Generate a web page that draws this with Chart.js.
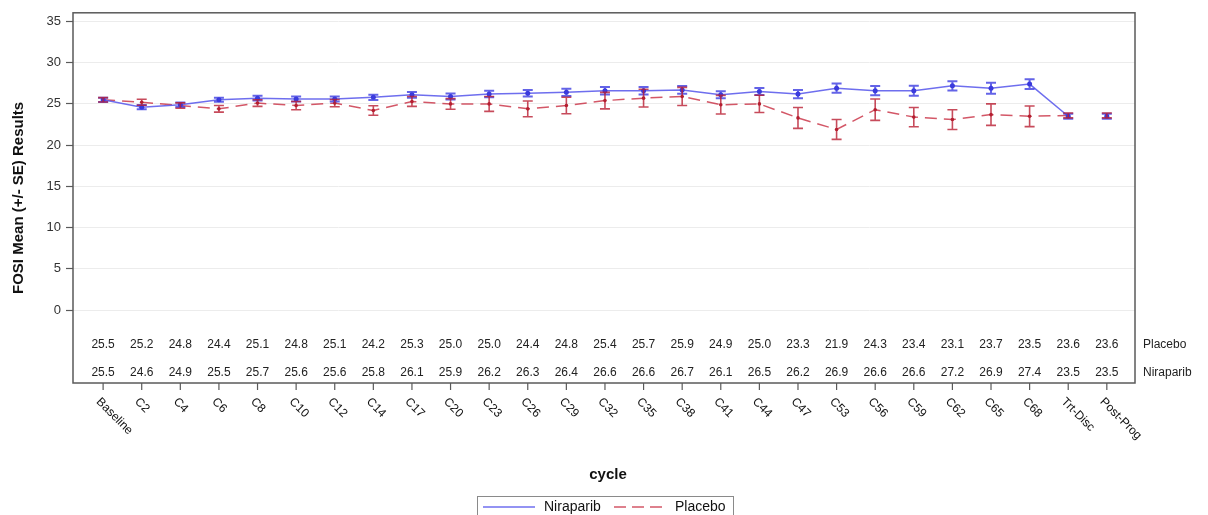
<!DOCTYPE html>
<html>
<head>
<meta charset="utf-8">
<title>FOSI Mean by cycle</title>
<script src="https://cdn.jsdelivr.net/npm/chart.js@4/dist/chart.umd.min.js"></script>
<style>
  html, body { margin: 0; padding: 0; background: #ffffff; }
  #wrap { width: 1208px; height: 515px; }
</style>
</head>
<body>
<div id="wrap"><canvas id="c" width="1208" height="515"></canvas></div>
<script>
// Visits on the x axis
const cycles = ['Baseline', 'C2', 'C4', 'C6', 'C8', 'C10', 'C12', 'C14', 'C17', 'C20', 'C23', 'C26', 'C29',
  'C32', 'C35', 'C38', 'C41', 'C44', 'C47', 'C53', 'C56', 'C59', 'C62', 'C65', 'C68', 'Trt-Disc', 'Post-Prog'];

// FOSI mean per visit
const niraparibMean = [25.5, 24.6, 24.9, 25.5, 25.7, 25.6, 25.6, 25.8, 26.1, 25.9, 26.2, 26.3, 26.4,
  26.6, 26.6, 26.7, 26.1, 26.5, 26.2, 26.9, 26.6, 26.6, 27.2, 26.9, 27.4, 23.5, 23.5];
const placeboMean = [25.5, 25.2, 24.8, 24.4, 25.1, 24.8, 25.1, 24.2, 25.3, 25.0, 25.0, 24.4, 24.8,
  25.4, 25.7, 25.9, 24.9, 25.0, 23.3, 21.9, 24.3, 23.4, 23.1, 23.7, 23.5, 23.6, 23.6];

// Standard error per visit (half-length of each error bar)
const niraparibSE = [0.26, 0.26, 0.26, 0.25, 0.3, 0.3, 0.3, 0.32, 0.34, 0.36, 0.4, 0.4, 0.45,
  0.45, 0.45, 0.48, 0.42, 0.42, 0.5, 0.56, 0.56, 0.6, 0.56, 0.66, 0.6, 0.3, 0.3];
const placeboSE = [0.26, 0.36, 0.32, 0.4, 0.4, 0.5, 0.44, 0.58, 0.6, 0.64, 0.9, 0.95, 1.0,
  1.0, 1.07, 1.1, 1.13, 1.05, 1.27, 1.2, 1.3, 1.17, 1.2, 1.3, 1.25, 0.3, 0.3];

// Y axis tick labels
const yTickValues = [0, 5, 10, 15, 20, 25, 30, 35];

// The last visit is plotted on its own, not joined to the previous one
const standaloneVisit = 'Post-Prog';
const breakIndex = cycles.indexOf(standaloneVisit);

const FONT = '"Liberation Sans", Arial, sans-serif';

const BLUE_LINE = 'rgba(85, 85, 235, 0.85)';
const RED_LINE = 'rgba(200, 45, 65, 0.8)';

function toPoints(values) {
  return values.map((v, i) => ({ x: i, y: v }));
}

const decorations = {
  id: 'decorations',
  afterDatasetsDraw(chart) {
    const { ctx, scales: { x, y } } = chart;
    ctx.save();
    chart.data.datasets.forEach((ds) => {
      ctx.strokeStyle = ds.errColor;
      ctx.lineWidth = ds.errWidth;
      ctx.setLineDash([]);
      ds.data.forEach((p, i) => {
        const px = x.getPixelForValue(p.x);
        const lo = y.getPixelForValue(p.y - ds.se[i]);
        const hi = y.getPixelForValue(p.y + ds.se[i]);
        ctx.beginPath();
        ctx.moveTo(px, lo); ctx.lineTo(px, hi);
        ctx.moveTo(px - 5, lo); ctx.lineTo(px + 5, lo);
        ctx.moveTo(px - 5, hi); ctx.lineTo(px + 5, hi);
        ctx.stroke();
      });
    });
    ctx.restore();
  },
  afterDraw(chart) {
    const { ctx, chartArea: a, scales: { x } } = chart;
    ctx.save();

    // plot frame
    ctx.strokeStyle = '#5a5a5a';
    ctx.lineWidth = 1.5;
    ctx.setLineDash([]);
    ctx.strokeRect(a.left, a.top, a.right - a.left, a.bottom - a.top);

    // value table inside the frame
    ctx.fillStyle = '#222';
    ctx.font = '12px ' + FONT;
    ctx.textBaseline = 'middle';
    const rows = [
      { label: 'Placebo', values: placeboMean, y: a.bottom - 38 },
      { label: 'Niraparib', values: niraparibMean, y: a.bottom - 10 }
    ];
    rows.forEach(r => {
      ctx.textAlign = 'center';
      r.values.forEach((v, i) => {
        ctx.fillText(v.toFixed(1), x.getPixelForValue(i), r.y);
      });
      ctx.textAlign = 'left';
      ctx.fillText(r.label, a.right + 8, r.y);
    });

    // x tick marks and slanted labels
    ctx.strokeStyle = '#5a5a5a';
    ctx.lineWidth = 1.2;
    ctx.fillStyle = '#111';
    cycles.forEach((c, i) => {
      const px = x.getPixelForValue(i);
      ctx.beginPath();
      ctx.moveTo(px, a.bottom);
      ctx.lineTo(px, a.bottom + 7);
      ctx.stroke();
      ctx.save();
      ctx.translate(px - 5, a.bottom + 17);
      ctx.rotate(Math.PI / 4);
      ctx.textAlign = 'left';
      ctx.textBaseline = 'middle';
      ctx.font = '12px ' + FONT;
      ctx.fillText(c, 0, 0);
      ctx.restore();
    });

    // axis titles
    ctx.fillStyle = '#111';
    ctx.font = 'bold 15px ' + FONT;
    ctx.textAlign = 'center';
    ctx.textBaseline = 'middle';
    ctx.fillText('cycle', chart.width / 2 + 4, 475);
    ctx.save();
    ctx.translate(19, (a.top + a.bottom) / 2);
    ctx.rotate(-Math.PI / 2);
    ctx.fillText('FOSI Mean (+/- SE) Results', 0, 0);
    ctx.restore();

    // legend
    const lx = 477, ly = 496, lw = 256;
    ctx.strokeStyle = '#8a8a8a';
    ctx.lineWidth = 1;
    ctx.strokeRect(lx + 0.5, ly + 0.5, lw, 24);
    const legendY = 507;
    ctx.lineWidth = 1.5;
    ctx.strokeStyle = BLUE_LINE;
    ctx.beginPath(); ctx.moveTo(483, legendY); ctx.lineTo(535, legendY); ctx.stroke();
    ctx.strokeStyle = RED_LINE;
    ctx.setLineDash([12, 6]);
    ctx.beginPath(); ctx.moveTo(614, legendY); ctx.lineTo(666, legendY); ctx.stroke();
    ctx.setLineDash([]);
    ctx.fillStyle = '#111';
    ctx.font = '14px ' + FONT;
    ctx.textAlign = 'left';
    ctx.fillText('Niraparib', 544, legendY);
    ctx.fillText('Placebo', 675, legendY);

    ctx.restore();
  }
};

const gapSegment = (color) => (segCtx) => segCtx.p1DataIndex === breakIndex ? 'rgba(0,0,0,0)' : color;

new Chart(document.getElementById('c'), {
  type: 'line',
  data: {
    datasets: [
      {
        label: 'Niraparib',
        data: toPoints(niraparibMean),
        se: niraparibSE,
        errColor: 'rgba(60, 60, 225, 0.8)',
        errWidth: 2,
        borderColor: BLUE_LINE,
        borderWidth: 1.5,
        pointRadius: 2.5,
        pointBorderWidth: 0,
        pointBackgroundColor: '#3a3ad8',
        tension: 0,
        segment: { borderColor: gapSegment(BLUE_LINE) }
      },
      {
        label: 'Placebo',
        data: toPoints(placeboMean),
        se: placeboSE,
        errColor: 'rgba(185, 30, 50, 0.8)',
        errWidth: 1.6,
        borderColor: RED_LINE,
        borderWidth: 1.5,
        borderDash: [12, 7],
        pointRadius: 1.8,
        pointBorderWidth: 0,
        pointBackgroundColor: '#b0202f',
        tension: 0,
        segment: { borderColor: gapSegment(RED_LINE) }
      }
    ]
  },
  options: {
    responsive: false,
    devicePixelRatio: 1,
    animation: false,
    layout: { padding: { top: 12, right: 73, left: 0, bottom: 0 } },
    plugins: { legend: { display: false }, tooltip: { enabled: false } },
    scales: {
      x: {
        type: 'linear',
        min: -0.78,
        max: 26.73,
        grid: { display: false },
        border: { display: false },
        ticks: { display: false },
        afterFit(scale) { scale.height = 132; }
      },
      y: {
        type: 'linear',
        min: -8.85,
        max: 36.05,
        afterBuildTicks(scale) { scale.ticks = yTickValues.map(v => ({ value: v })); },
        afterFit(scale) { scale.width = 73; },
        border: { display: false },
        grid: { color: '#ececec', lineWidth: 1, tickLength: 7, tickColor: '#5a5a5a', tickWidth: 1.2 },
        ticks: { color: '#333', padding: 5, font: { family: FONT, size: 13 } }
      }
    }
  },
  plugins: [decorations]
});
</script>
</body>
</html>
